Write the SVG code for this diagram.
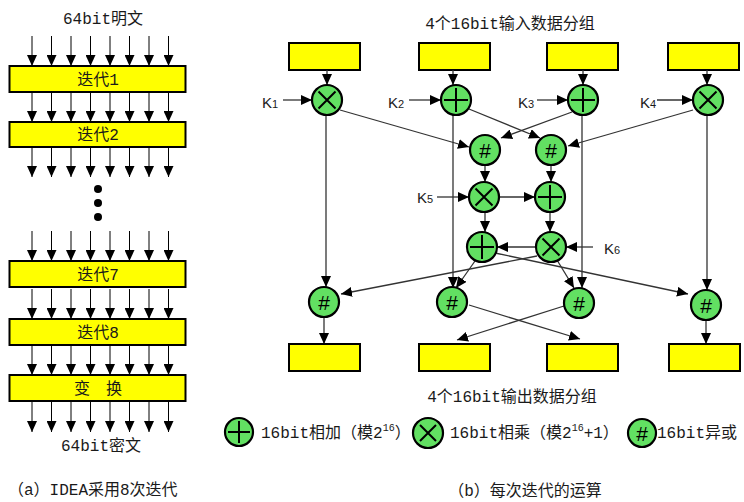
<svg xmlns="http://www.w3.org/2000/svg" width="744" height="502" viewBox="0 0 744 502">
<defs>
<marker id="ah" markerUnits="userSpaceOnUse" markerWidth="11" markerHeight="10" refX="11" refY="5" orient="auto">
<path d="M0,0 L11,5 L0,10 z" fill="#000"/>
</marker>
<style>
.t{font-family:"Liberation Mono","Noto Sans CJK SC",monospace;font-size:16px;fill:#1a1a1a}
.k{font-family:"Liberation Sans",Arial,sans-serif;font-size:15px;fill:#1a1a1a}
.box{fill:#ffff00;stroke:#000;stroke-width:2}
.op{fill:#62e062;stroke:#000;stroke-width:2.2}
.sym{stroke:#000;stroke-width:2;fill:none}
.hash{font-family:"Liberation Sans",Arial,sans-serif;font-size:21px;fill:#000;text-anchor:middle}
.la{stroke:#000;stroke-width:1;fill:none;marker-end:url(#ah)}
.ca{stroke:#333;stroke-width:1.3;fill:none;marker-end:url(#ah)}
</style>
<g id="row8">
<path class="la" d="M32,0V30"/><path class="la" d="M51.5,0V30"/><path class="la" d="M71,0V30"/><path class="la" d="M90.5,0V30"/>
<path class="la" d="M110,0V30"/><path class="la" d="M129.5,0V30"/><path class="la" d="M149,0V30"/><path class="la" d="M168.5,0V30"/>
</g>
</defs>

<!-- Left panel -->
<g id="left-panel">
<text class="t" x="103" y="24" text-anchor="middle">64bit明文</text>
<g id="round1"><rect class="box" x="9.5" y="66" width="176" height="26"/><text class="t" x="98" y="85" text-anchor="middle">迭代1</text></g>
<g id="round2"><rect class="box" x="9.5" y="122" width="176" height="25"/><text class="t" x="98" y="140" text-anchor="middle">迭代2</text></g>
<g id="dots"><circle cx="98" cy="189" r="4" fill="#000"/><circle cx="98" cy="203" r="4" fill="#000"/><circle cx="98" cy="217" r="4" fill="#000"/></g>
<g id="round7"><rect class="box" x="9.5" y="261" width="176" height="26"/><text class="t" x="98" y="280" text-anchor="middle">迭代7</text></g>
<g id="round8"><rect class="box" x="9.5" y="319" width="176" height="26"/><text class="t" x="98" y="338" text-anchor="middle">迭代8</text></g>
<g id="transform"><rect class="box" x="9.5" y="375" width="176" height="26"/><text class="t" x="98" y="394" text-anchor="middle">变　换</text></g>
<text class="t" x="101" y="451" text-anchor="middle">64bit密文</text>
<text class="t" x="8" y="495">（a）IDEA采用8次迭代</text>
</g>

<g id="left-connectors">
<use href="#row8" transform="translate(0,36)"/>
<use href="#row8" transform="translate(0,92)"/>
<use href="#row8" transform="translate(0,147)"/>
<use href="#row8" transform="translate(0,231)"/>
<use href="#row8" transform="translate(0,289)"/>
<use href="#row8" transform="translate(0,345)"/>
<use href="#row8" transform="translate(0,402)"/>
</g>

<!-- Right panel -->
<text class="t" x="510" y="29" text-anchor="middle">4个16bit输入数据分组</text>
<g id="in1"><rect class="box" x="289" y="43" width="71" height="27"/></g>
<g id="in2"><rect class="box" x="419" y="43" width="71" height="27"/></g>
<g id="in3"><rect class="box" x="547" y="43" width="71" height="27"/></g>
<g id="in4"><rect class="box" x="668" y="43" width="71" height="27"/></g>

<g id="connectors">
<path class="ca" d="M327,70V85"/>
<path class="ca" d="M453,70V85"/>
<path class="ca" d="M583,70V85"/>
<path class="ca" d="M707,70V85"/>
<path class="ca" d="M283,100H312"/>
<path class="ca" d="M409,100H441"/>
<path class="ca" d="M537,100H568"/>
<path class="ca" d="M657,100H693"/>
<path class="ca" d="M326,115V287"/>
<path class="ca" d="M453,115V288"/>
<path class="ca" d="M582,115V288"/>
<path class="ca" d="M707,115V290"/>
<path class="ca" d="M340,110L469,147"/>
<path class="ca" d="M469,109L540,138"/>
<path class="ca" d="M572,112L501,138"/>
<path class="ca" d="M693,110L568,146"/>
<path class="ca" d="M485,165V182"/>
<path class="ca" d="M551,165V182"/>
<path class="ca" d="M437,197H469"/>
<path class="ca" d="M499,197H535"/>
<path class="ca" d="M485,212V232"/>
<path class="ca" d="M550,212V232"/>
<path class="ca" d="M536,247H497"/>
<path class="ca" d="M593,247H566"/>
<path class="ca" d="M475,261L456,288"/>
<path class="ca" d="M495,253L688,294"/>
<path class="ca" d="M537,256L341,294"/>
<path class="ca" d="M557,260L574,288"/>
<path class="ca" d="M324,317V344"/>
<path class="ca" d="M469,305L580,339"/>
<path class="ca" d="M564,306L457,340"/>
<path class="ca" d="M706,320V344"/>
</g>

<g id="K-labels">
<text class="k" x="262" y="108">K<tspan font-size="11">1</tspan></text>
<text class="k" x="388" y="108">K<tspan font-size="11">2</tspan></text>
<text class="k" x="518" y="108">K<tspan font-size="11">3</tspan></text>
<text class="k" x="640" y="108">K<tspan font-size="11">4</tspan></text>
<text class="k" x="417" y="203">K<tspan font-size="11">5</tspan></text>
<text class="k" x="604" y="254">K<tspan font-size="11">6</tspan></text>
</g>

<g id="mul1"><circle class="op" cx="327" cy="100" r="15"/><path class="sym" d="M318.5,91.5L335.5,108.5M335.5,91.5L318.5,108.5"/></g>
<g id="add2"><circle class="op" cx="456" cy="100" r="15"/><path class="sym" d="M444,100H468M456,88V112"/></g>
<g id="add3"><circle class="op" cx="583" cy="100" r="15"/><path class="sym" d="M571,100H595M583,88V112"/></g>
<g id="mul4"><circle class="op" cx="708" cy="100" r="15"/><path class="sym" d="M699.5,91.5L716.5,108.5M716.5,91.5L699.5,108.5"/></g>
<g id="xor1"><circle class="op" cx="485" cy="150" r="15"/><text class="hash" x="485" y="157.5">#</text></g>
<g id="xor2"><circle class="op" cx="551" cy="150" r="15"/><text class="hash" x="551" y="157.5">#</text></g>
<g id="mul5"><circle class="op" cx="484" cy="197" r="15"/><path class="sym" d="M475.5,188.5L492.5,205.5M492.5,188.5L475.5,205.5"/></g>
<g id="add6"><circle class="op" cx="550" cy="197" r="15"/><path class="sym" d="M538,197H562M550,185V209"/></g>
<g id="add7"><circle class="op" cx="482" cy="247" r="15"/><path class="sym" d="M470,247H494M482,235V259"/></g>
<g id="mul8"><circle class="op" cx="551" cy="247" r="15"/><path class="sym" d="M542.5,238.5L559.5,255.5M559.5,238.5L542.5,255.5"/></g>
<g id="xorOut1"><circle class="op" cx="324" cy="302" r="15"/><text class="hash" x="324" y="309.5">#</text></g>
<g id="xorOut2"><circle class="op" cx="452" cy="302" r="15"/><text class="hash" x="452" y="309.5">#</text></g>
<g id="xorOut3"><circle class="op" cx="579" cy="303" r="15"/><text class="hash" x="579" y="310.5">#</text></g>
<g id="xorOut4"><circle class="op" cx="706" cy="305" r="15"/><text class="hash" x="706" y="312.5">#</text></g>

<g id="out1"><rect class="box" x="289" y="344" width="71" height="27"/></g>
<g id="out2"><rect class="box" x="419" y="344" width="71" height="27"/></g>
<g id="out3"><rect class="box" x="547" y="344" width="71" height="27"/></g>
<g id="out4"><rect class="box" x="669" y="344" width="71" height="27"/></g>
<text class="t" x="512" y="402" text-anchor="middle">4个16bit输出数据分组</text>

<g id="legend">
<g id="leg-add"><circle class="op" cx="239" cy="432" r="14"/><path class="sym" d="M228,432H250M239,421V443"/>
<text class="t" x="261" y="438">16bit相加（模2<tspan font-size="10" dy="-7">16</tspan><tspan dy="7">）</tspan></text></g>
<g id="leg-mul"><circle class="op" cx="428" cy="433" r="15"/><path class="sym" d="M420,425L436,441M436,425L420,441"/>
<text class="t" x="450" y="438">16bit相乘（模2<tspan font-size="10" dy="-7">16</tspan><tspan dy="7">+1）</tspan></text></g>
<g id="leg-xor"><circle class="op" cx="642" cy="433" r="14"/><text class="hash" x="642" y="440.5">#</text>
<text class="t" x="657" y="438">16bit异或</text></g>
</g>
<text class="t" x="525" y="496" text-anchor="middle">（b）每次迭代的运算</text>
</svg>
